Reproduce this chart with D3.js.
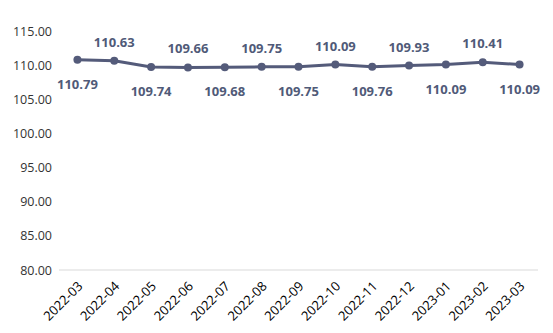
<!DOCTYPE html>
<html>
<head>
<meta charset="utf-8">
<script src="https://cdn.jsdelivr.net/npm/d3@7"></script>
<style>
  html, body { margin: 0; padding: 0; background: #fff; }
  svg { display: block; }
</style>
</head>
<body>
<svg id="chart" width="553" height="333"></svg>
<script>
// Monthly index values
const months = ["2022-03","2022-04","2022-05","2022-06","2022-07","2022-08","2022-09",
                "2022-10","2022-11","2022-12","2023-01","2023-02","2023-03"];
const values = [110.79,110.63,109.74,109.66,109.68,109.75,109.75,110.09,109.76,109.93,110.09,110.41,110.09];
const yTicks = [80,85,90,95,100,105,110,115];

(function () {
  const svg = d3.select("#chart");
  const plot = { left: 59, right: 538, top: 31, bottom: 270 };
  const font = "'Open Sans', 'Noto Sans', sans-serif";
  const lineColor = "#545b7a";

  const x = d3.scaleBand().domain(months).range([plot.left, plot.right]);
  const y = d3.scaleLinear().domain([80, 115]).range([plot.bottom, plot.top]);
  const cx = d => x(d) + x.bandwidth() / 2;

  // baseline
  svg.append("line")
    .attr("x1", plot.left).attr("x2", plot.right)
    .attr("y1", y(80)).attr("y2", y(80))
    .attr("stroke", "#d9d9d9").attr("stroke-width", 1);

  // y axis labels
  const yAxis = svg.append("g")
    .attr("transform", `translate(${plot.left - 7},0)`)
    .call(d3.axisLeft(y).tickValues(yTicks).tickFormat(d3.format(".2f")).tickSize(0).tickPadding(0));
  yAxis.select(".domain").remove();
  yAxis.selectAll("text")
    .attr("font-family", font).attr("font-size", 12.5).attr("fill", "#333");

  // x axis labels, rotated
  const xAxis = svg.append("g")
    .attr("transform", `translate(0,${plot.bottom})`)
    .call(d3.axisBottom(x).tickSize(0).tickPadding(0));
  xAxis.select(".domain").remove();
  xAxis.selectAll("text")
    .attr("font-family", font).attr("font-size", 13).attr("fill", "#000")
    .attr("text-anchor", "end")
    .attr("dy", 0)
    .attr("transform", "translate(6,17) rotate(-45)");

  // line
  svg.append("path")
    .datum(values)
    .attr("fill", "none")
    .attr("stroke", lineColor)
    .attr("stroke-width", 3)
    .attr("stroke-linejoin", "round")
    .attr("d", d3.line().x((d, i) => cx(months[i])).y(d => y(d)));

  // points
  svg.selectAll("circle.pt")
    .data(values)
    .join("circle")
    .attr("class", "pt")
    .attr("cx", (d, i) => cx(months[i]))
    .attr("cy", d => y(d))
    .attr("r", 4)
    .attr("fill", lineColor);

  // value labels, alternating below / above
  svg.selectAll("text.val")
    .data(values)
    .join("text")
    .attr("class", "val")
    .attr("x", (d, i) => cx(months[i]))
    .attr("y", (d, i) => y(d) + (i % 2 === 0 ? 29 : -14))
    .attr("text-anchor", "middle")
    .attr("font-family", font)
    .attr("font-size", 13)
    .attr("font-weight", "bold")
    .attr("fill", "#505a78")
    .text(d => d.toFixed(2));
})();
</script>
</body>
</html>
